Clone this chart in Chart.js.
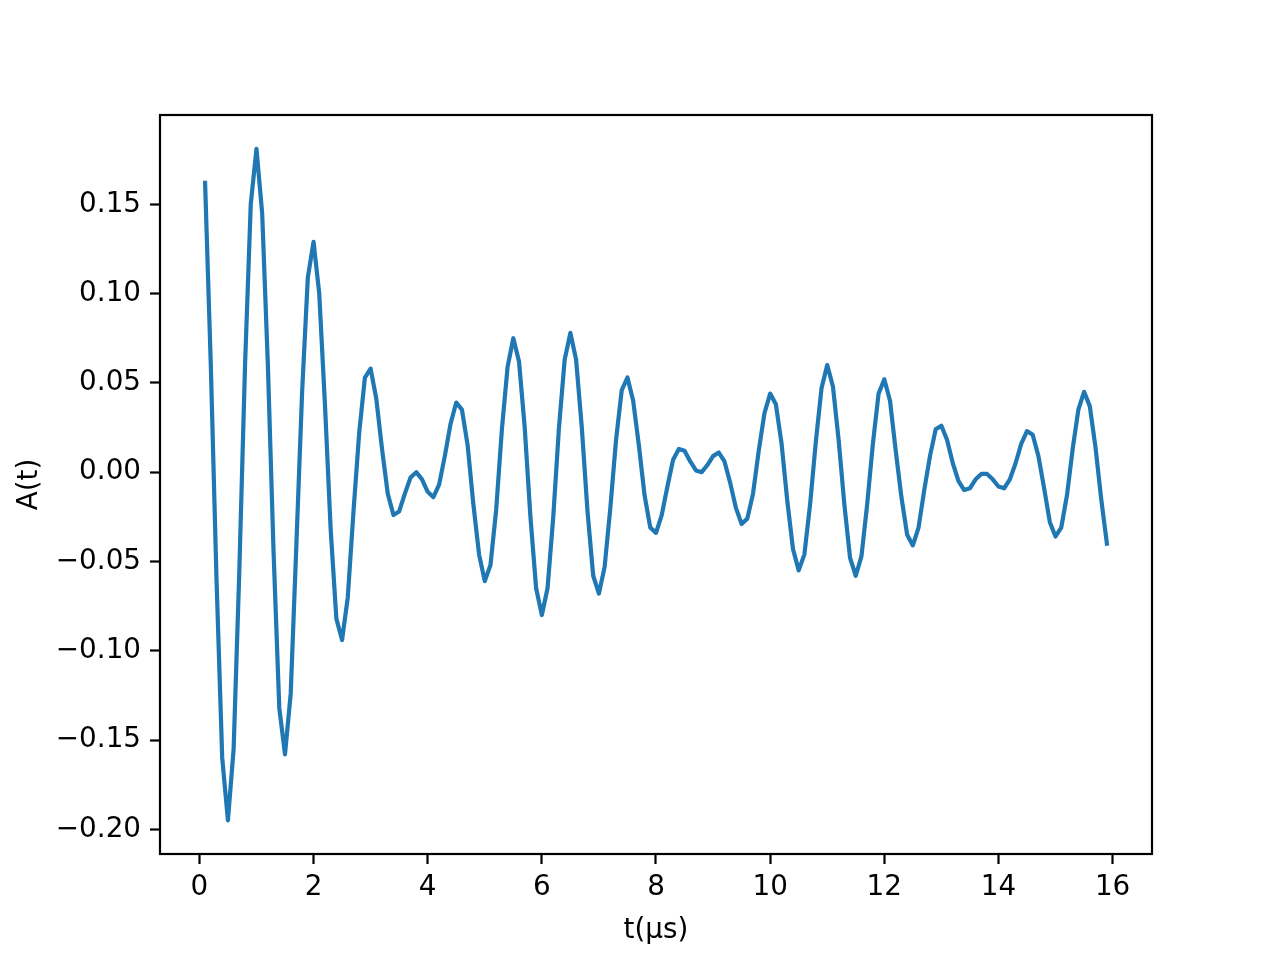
<!DOCTYPE html>
<html>
<head>
<meta charset="utf-8">
<script src="https://cdn.jsdelivr.net/npm/chart.js@4/dist/chart.umd.min.js"></script>
<style>
  body { margin: 0; background: #fff; }
  canvas { display: block; }
</style>
</head>
<body>
<canvas id="grafica" width="1280" height="960"></canvas>
<script>
// tiempos (µs)
const tiempos = [
  0.1, 0.2, 0.3, 0.4, 0.5, 0.6, 0.7, 0.8, 0.9, 1.0,
  1.1, 1.2, 1.3, 1.4, 1.5, 1.6, 1.7, 1.8, 1.9, 2.0,
  2.1, 2.2, 2.3, 2.4, 2.5, 2.6, 2.7, 2.8, 2.9, 3.0,
  3.1, 3.2, 3.3, 3.4, 3.5, 3.6, 3.7, 3.8, 3.9, 4.0,
  4.1, 4.2, 4.3, 4.4, 4.5, 4.6, 4.7, 4.8, 4.9, 5.0,
  5.1, 5.2, 5.3, 5.4, 5.5, 5.6, 5.7, 5.8, 5.9, 6.0,
  6.1, 6.2, 6.3, 6.4, 6.5, 6.6, 6.7, 6.8, 6.9, 7.0,
  7.1, 7.2, 7.3, 7.4, 7.5, 7.6, 7.7, 7.8, 7.9, 8.0,
  8.1, 8.2, 8.3, 8.4, 8.5, 8.6, 8.7, 8.8, 8.9, 9.0,
  9.1, 9.2, 9.3, 9.4, 9.5, 9.6, 9.7, 9.8, 9.9, 10.0,
  10.1, 10.2, 10.3, 10.4, 10.5, 10.6, 10.7, 10.8, 10.9, 11.0,
  11.1, 11.2, 11.3, 11.4, 11.5, 11.6, 11.7, 11.8, 11.9, 12.0,
  12.1, 12.2, 12.3, 12.4, 12.5, 12.6, 12.7, 12.8, 12.9, 13.0,
  13.1, 13.2, 13.3, 13.4, 13.5, 13.6, 13.7, 13.8, 13.9, 14.0,
  14.1, 14.2, 14.3, 14.4, 14.5, 14.6, 14.7, 14.8, 14.9, 15.0,
  15.1, 15.2, 15.3, 15.4, 15.5, 15.6, 15.7, 15.8, 15.9
];

// amplitud A(t)
const amplitud = [
  0.162, 0.060, -0.060, -0.160, -0.195, -0.155, -0.055, 0.060, 0.150, 0.181,
  0.145, 0.060, -0.045, -0.132, -0.158, -0.124, -0.040, 0.045, 0.109, 0.129,
  0.100, 0.038, -0.032, -0.082, -0.094, -0.070, -0.022, 0.022, 0.053, 0.058,
  0.041, 0.013, -0.012, -0.024, -0.022, -0.012, -0.003, 0.000, -0.004, -0.011,
  -0.014, -0.007, 0.009, 0.027, 0.039, 0.035, 0.015, -0.018, -0.046, -0.061,
  -0.052, -0.021, 0.024, 0.059, 0.075, 0.062, 0.025, -0.025, -0.065, -0.080,
  -0.065, -0.025, 0.025, 0.063, 0.078, 0.063, 0.025, -0.022, -0.058, -0.068,
  -0.053, -0.020, 0.018, 0.046, 0.053, 0.040, 0.015, -0.013, -0.031, -0.034,
  -0.024, -0.008, 0.007, 0.013, 0.012, 0.006, 0.001, 0.000, 0.004, 0.009,
  0.011, 0.006, -0.006, -0.020, -0.029, -0.026, -0.012, 0.012, 0.033, 0.044,
  0.038, 0.016, -0.016, -0.043, -0.055, -0.046, -0.018, 0.017, 0.047, 0.060,
  0.048, 0.018, -0.018, -0.048, -0.058, -0.047, -0.018, 0.016, 0.044, 0.052,
  0.040, 0.012, -0.014, -0.035, -0.041, -0.031, -0.010, 0.009, 0.024, 0.026,
  0.018, 0.005, -0.005, -0.010, -0.009, -0.004, -0.001, -0.001, -0.004, -0.008,
  -0.009, -0.004, 0.005, 0.016, 0.023, 0.021, 0.009, -0.009, -0.028, -0.036,
  -0.031, -0.013, 0.013, 0.035, 0.045, 0.037, 0.014, -0.015, -0.040
];

const ticksX = [0, 2, 4, 6, 8, 10, 12, 14, 16];
const ticksY = [-0.20, -0.15, -0.10, -0.05, 0.00, 0.05, 0.10, 0.15];

const fuente = { family: "'DejaVu Sans', sans-serif", size: 27.8 };

// marco completo alrededor del area del grafico
const marco = {
  id: "marco",
  afterDraw(chart) {
    const { ctx, chartArea } = chart;
    ctx.save();
    ctx.strokeStyle = "#000";
    ctx.lineWidth = 2.2;
    ctx.strokeRect(chartArea.left, chartArea.top,
      chartArea.right - chartArea.left, chartArea.bottom - chartArea.top);
    ctx.restore();
  }
};

const puntos = tiempos.map((t, i) => ({ x: t, y: amplitud[i] }));

new Chart(document.getElementById("grafica").getContext("2d"), {
  type: "line",
  data: {
    datasets: [{
      label: "A(t)",
      data: puntos,
      borderColor: "#1f77b4",
      borderWidth: 4.2,
      borderJoinStyle: "round",
      borderCapStyle: "square",
      pointRadius: 0,
      tension: 0,
      fill: false
    }]
  },
  options: {
    responsive: false,
    animation: false,
    devicePixelRatio: 1,
    layout: { padding: { top: 115, right: 128, left: 0, bottom: 0 } },
    plugins: {
      legend: { display: false },
      tooltip: { enabled: false }
    },
    scales: {
      x: {
        type: "linear",
        min: -0.69,
        max: 16.69,
        afterBuildTicks: scale => { scale.ticks = ticksX.map(v => ({ value: v })); },
        afterFit: scale => { scale.height = 106; },
        grid: {
          drawOnChartArea: false,
          drawTicks: true,
          tickLength: 10,
          tickWidth: 2.2,
          tickColor: "#000"
        },
        border: { display: false },
        ticks: {
          color: "#000",
          font: fuente,
          padding: 7,
          maxRotation: 0,
          autoSkip: false,
          callback: v => String(v)
        },
        title: {
          display: true,
          text: "t(μs)",
          color: "#000",
          font: fuente,
          padding: { top: 0, bottom: 13 }
        }
      },
      y: {
        type: "linear",
        min: -0.2138,
        max: 0.2,
        afterBuildTicks: scale => { scale.ticks = ticksY.map(v => ({ value: v })); },
        afterFit: scale => { scale.width = 160; },
        grid: {
          drawOnChartArea: false,
          drawTicks: true,
          tickLength: 10,
          tickWidth: 2.2,
          tickColor: "#000"
        },
        border: { display: false },
        ticks: {
          color: "#000",
          font: fuente,
          padding: 9,
          autoSkip: false,
          callback: v => v.toFixed(2).replace("-", "\u2212")
        },
        title: {
          display: true,
          text: "A(t)",
          color: "#000",
          font: fuente,
          padding: { top: 13, bottom: 0 }
        }
      }
    }
  },
  plugins: [marco]
});
</script>
</body>
</html>
